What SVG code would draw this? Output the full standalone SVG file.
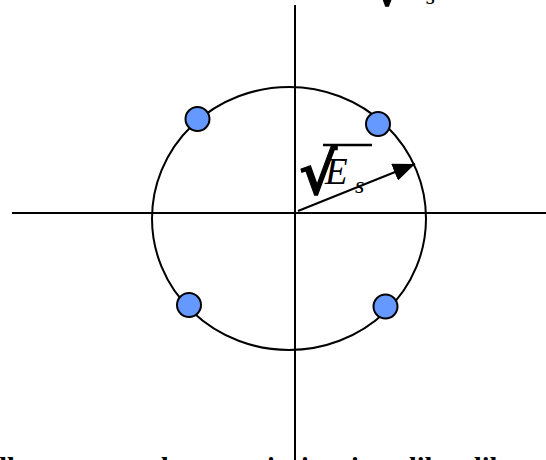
<svg xmlns="http://www.w3.org/2000/svg" xmlns:xlink="http://www.w3.org/1999/xlink" width="546" height="460" viewBox="0 0 546 460">
<style>
.ax{stroke:#000;stroke-width:2;fill:none}
.pt{fill:#6699FF;stroke:#000;stroke-width:2}
.rad{font-family:"DejaVu Serif",serif;font-weight:bold;font-size:58px;stroke:#000;stroke-width:1.2}
.it{font-family:"Liberation Serif",serif;font-style:italic}
.cap{font-family:"Liberation Serif",serif;font-weight:bold;font-size:28px}
</style>
<defs>
<marker id="ah" markerWidth="22" markerHeight="18" refX="22" refY="9" orient="auto" markerUnits="userSpaceOnUse">
<path d="M0,0 L22,9 L0,18 Z" fill="#000"/>
</marker>
<g id="lbl">
<text class="rad" x="299" y="194">√</text>
<line x1="323" y1="145" x2="372" y2="145" stroke="#000" stroke-width="2.5"/>
<text class="it" x="325" y="184" font-size="37">E</text>
<text class="it" x="355" y="193" font-size="24">s</text>
</g>
</defs>
<g id="connectors">
<line class="ax" x1="12" y1="213" x2="546" y2="213"/>
<line class="ax" x1="295" y1="5" x2="295" y2="460"/>
<ellipse class="ax" cx="289" cy="218.5" rx="137" ry="131.5"/>
<line class="ax" x1="298" y1="211" x2="415" y2="164" marker-end="url(#ah)"/>
</g>
<g id="label-main"><use xlink:href="#lbl"/></g>
<g id="label-top"><use xlink:href="#lbl" transform="translate(71,-189)"/></g>
<g id="p1"><circle class="pt" cx="197.5" cy="119" r="12"/></g>
<g id="p2"><circle class="pt" cx="378" cy="124" r="12"/></g>
<g id="p3"><circle class="pt" cx="189" cy="305" r="12"/></g>
<g id="p4"><circle class="pt" cx="385.5" cy="306.5" r="12"/></g>
<g id="caption">
<text class="cap" y="476"><tspan x="-21">All</tspan><tspan x="24">ones are</tspan><tspan x="114">used</tspan><tspan x="185">to</tspan><tspan x="214">a</tspan><tspan x="237.5">noise</tspan><tspan x="301">is</tspan><tspan x="326">a</tspan><tspan x="351">in</tspan><tspan x="385">a</tspan><tspan x="409">like</tspan><tspan x="458">a</tspan><tspan x="474">like</tspan></text>
</g>
</svg>
